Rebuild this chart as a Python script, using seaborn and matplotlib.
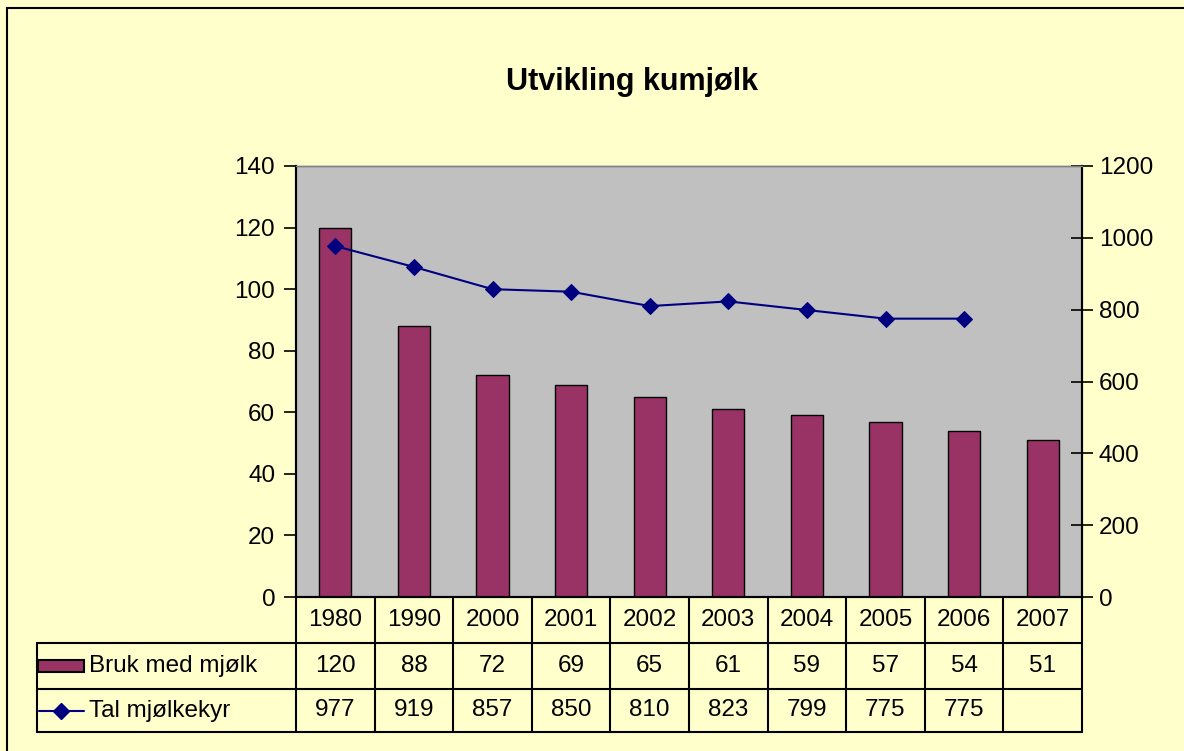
import numpy as np
import pandas as pd
import matplotlib
matplotlib.use("Agg")
import matplotlib.pyplot as plt
import matplotlib.transforms as mtransforms
from matplotlib.patches import Rectangle
from matplotlib.lines import Line2D
import seaborn as sns

# data
years = ["1980", "1990", "2000", "2001", "2002", "2003", "2004", "2005", "2006", "2007"]
bruk = [120, 88, 72, 69, 65, 61, 59, 57, 54, 51]
kyr = [977, 919, 857, 850, 810, 823, 799, 775, 775, np.nan]
bar_name = "Bruk med mjølk"
line_name = "Tal mjølkekyr"
title = "Utvikling kumjølk"

bg = "#FFFFCC"
plot_bg = "#C0C0C0"
bar_col = "#993366"
line_col = "#000080"

sns.set_style("white")
plt.rcParams["font.family"] = ["Liberation Sans", "DejaVu Sans"]
plt.rcParams.update({"text.color": "black", "axes.labelcolor": "black",
                     "xtick.color": "black", "ytick.color": "black"})
fs = 17.5

df = pd.DataFrame({"year": years, "bruk": bruk, "kyr": kyr})
df["pos"] = np.arange(len(df))

fig = plt.figure(figsize=(11.84, 7.51), dpi=100, facecolor=bg)
ax = fig.add_axes([296 / 1184, 1 - 597 / 751, 786 / 1184, 431 / 751])
ax.set_facecolor(plot_bg)

sns.barplot(data=df, x="pos", y="bruk", color=bar_col, saturation=1,
            width=0.41, edgecolor="black", linewidth=1, ax=ax, native_scale=True)
ax.set_xlim(-0.5, len(df) - 0.5)
ax.set_ylim(0, 140)
ax.set_yticks(range(0, 141, 20))
ax.set_xticks([])
ax.set_xlabel("")
ax.set_ylabel("")
ax.tick_params(axis="y", direction="out", length=9, width=1.2, labelsize=fs, pad=6, left=True)

ax2 = ax.twinx()
sns.lineplot(data=df, x="pos", y="kyr", color=line_col, marker="D", markersize=8,
             markeredgecolor=line_col, linewidth=1.5, ax=ax2)
ax2.set_ylim(0, 1200)
ax2.set_yticks(range(0, 1201, 200))
ax2.set_xlim(-0.5, len(df) - 0.5)
ax2.set_ylabel("")
ax2.set_xlabel("")
ax2.tick_params(axis="y", direction="inout", length=16, width=1.2, labelsize=fs, pad=4, right=True)

for a in (ax, ax2):
    for s in ("left", "right", "bottom"):
        a.spines[s].set_color("black")
        a.spines[s].set_linewidth(1.5)
    a.spines["top"].set_color("#808080")
    a.spines["top"].set_linewidth(1)

fig.text(632 / 1184, 1 - 82 / 751, title, ha="center", va="center",
         fontsize=22, fontweight="bold")

# data table under the axis
tr = mtransforms.blended_transform_factory(ax.transData, ax.transAxes)
h = 431.0
r0, r1, r2 = -46 / h, -92 / h, -135 / h
left = -0.5 - (296 - 37) / 786 * len(df)
n = len(df)
lk = dict(color="black", lw=1.5, transform=tr, clip_on=False)
ax.add_line(Line2D([left, n - 0.5], [r0, r0], **lk))
ax.add_line(Line2D([left, n - 0.5], [r1, r1], **lk))
ax.add_line(Line2D([left, n - 0.5], [r2, r2], **lk))
ax.add_line(Line2D([left, left], [r0, r2], **lk))
for i in range(n + 1):
    ax.add_line(Line2D([i - 0.5, i - 0.5], [0, r2], **lk))

for i, row in df.iterrows():
    ax.text(row["pos"], r0 / 2, row["year"], ha="center", va="center", fontsize=fs, transform=tr)
    ax.text(row["pos"], (r0 + r1) / 2, f"{row['bruk']:.0f}", ha="center", va="center", fontsize=fs, transform=tr)
    if not np.isnan(row["kyr"]):
        ax.text(row["pos"], (r1 + r2) / 2, f"{row['kyr']:.0f}", ha="center", va="center", fontsize=fs, transform=tr)

# legend keys in the row headers
px = len(df) / 786.0
ax.add_patch(Rectangle((left + 1 * px, (r0 + r1) / 2 - 6 / h), 46 * px, 12 / h, facecolor=bar_col,
                       edgecolor="black", lw=1.5, transform=tr, clip_on=False))
ax.text(left + 52 * px, (r0 + r1) / 2, bar_name, ha="left", va="center", fontsize=fs, transform=tr)
ax.add_line(Line2D([left + 2 * px, left + 47 * px], [(r1 + r2) / 2] * 2, color=line_col, lw=1.5,
                   transform=tr, clip_on=False))
ax.add_line(Line2D([left + 24 * px], [(r1 + r2) / 2], color=line_col, marker="D", markersize=8,
                   transform=tr, clip_on=False))
ax.text(left + 52 * px, (r1 + r2) / 2, line_name, ha="left", va="center", fontsize=fs, transform=tr)

# outer chart border
fig.add_artist(Rectangle((7 / 1184, -0.01), 1.1, 1 - 8 / 751 + 0.01, transform=fig.transFigure,
                         fill=False, edgecolor="black", lw=1.5))

fig.savefig("out.png", dpi=100, facecolor=bg)
